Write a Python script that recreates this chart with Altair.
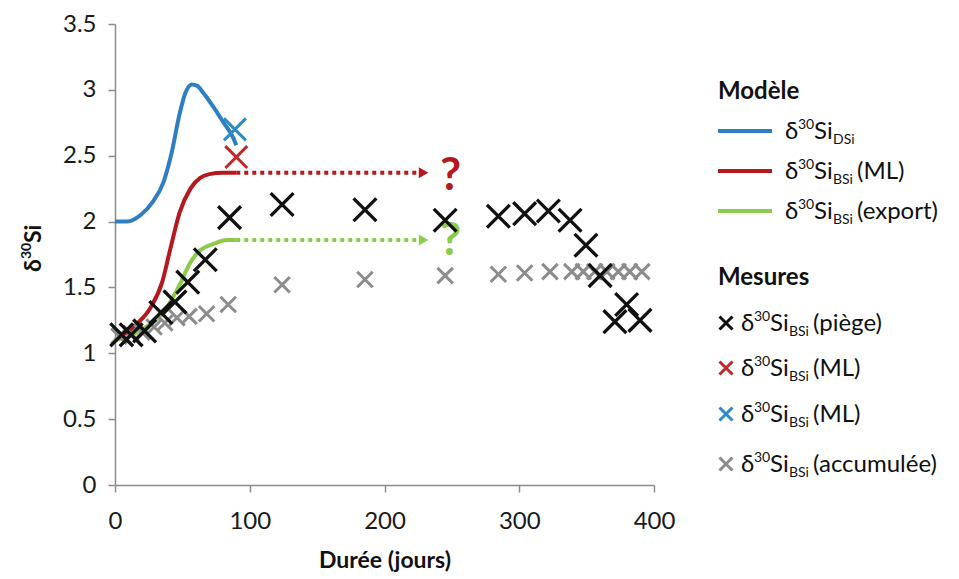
import altair as alt
import pandas as pd

FONT = "Lato"

# ---------------- data ----------------
# model curves
dsi_days = [0, 9, 19, 28, 36, 42, 48, 52, 57, 61, 66, 73, 80, 88, 90]
dsi_vals = [2.0, 2.0, 2.05, 2.15, 2.30, 2.52, 2.82, 2.97, 3.04, 3.03, 2.97, 2.87, 2.76, 2.63, 2.58]

ml_days = [0, 8, 16, 26, 35, 41, 48, 56, 63, 70, 80, 90]
ml_vals = [1.1, 1.14, 1.22, 1.34, 1.54, 1.79, 2.07, 2.25, 2.33, 2.36, 2.37, 2.37]

exp_days = [0, 10, 20, 26, 38, 48, 56, 63, 73, 83, 90]
exp_vals = [1.1, 1.13, 1.18, 1.22, 1.34, 1.52, 1.69, 1.78, 1.83, 1.86, 1.86]

# projections (dotted arrows) and question marks
arrow_start = 90
arrow_end = 226
arrow_tip = 229
ml_proj = 2.37
exp_proj = 1.86
qmark_day = 249
qmark_ml = 2.36
qmark_exp = 1.87

# measurements
piege_days = [5, 12, 22, 34, 44.5, 54, 67, 85, 124, 185.5, 245, 284.5, 304, 321.6, 337.7, 349.5, 360, 371, 379.7, 389.6]
piege_vals = [1.14, 1.14, 1.17, 1.31, 1.39, 1.54, 1.71, 2.03, 2.13, 2.09, 2.01, 2.04, 2.06, 2.08, 2.01, 1.82, 1.59, 1.24, 1.37, 1.25]

mlred_days = [90]
mlred_vals = [2.49]

mlblue_days = [89]
mlblue_vals = [2.70]

accum_days = [3, 12, 20, 29, 37, 46, 55, 68, 84, 124, 185.5, 245, 284.5, 304, 322.8, 339, 347.5, 356, 365, 373.5, 382, 391]
accum_vals = [1.13, 1.15, 1.16, 1.20, 1.23, 1.27, 1.28, 1.30, 1.37, 1.52, 1.56, 1.59, 1.60, 1.61, 1.62, 1.62, 1.62, 1.62, 1.62, 1.62, 1.62, 1.62]

x_ticks = [0, 100, 200, 300, 400]
y_ticks = [0, 0.5, 1, 1.5, 2, 2.5, 3, 3.5]

# legend entries
model_subs = ["DSi", "BSi", "BSi"]
model_rest = ["", "(ML)", "(export)"]
meas_subs = ["BSi", "BSi", "BSi", "BSi"]
meas_rest = ["(piège)", "(ML)", "(ML)", "(accumulée)"]

# ---------------- styles ----------------
series_domain = ["DSi", "ML", "export", "piege", "mlred", "mlblue", "accum"]
series_range = ["#2E7EC2", "#B5191E", "#8DCB4C", "#111111", "#C0282D", "#2E8BC9", "#8C8C8C"]
color_scale = alt.Scale(domain=series_domain, range=series_range)
XPATH = "M-1,-1L1,1M-1,1L1,-1"

xs = alt.Scale(domain=[0, 400], nice=False, zero=False)
ys = alt.Scale(domain=[0, 3.5], nice=False, zero=False)

def frame(days, vals, series):
    return pd.DataFrame({"day": days, "val": vals, "series": series})

model_df = pd.concat([
    frame(dsi_days, dsi_vals, "DSi"),
    frame(ml_days, ml_vals, "ML"),
    frame(exp_days, exp_vals, "export"),
])

x_enc = alt.X("day:Q", scale=xs, axis=alt.Axis(
    values=x_ticks, title="Durée (jours)", format="d", grid=False, labelFlush=False,
    labelPadding=17, titlePadding=16))
y_enc = alt.Y("val:Q", scale=ys, axis=alt.Axis(
    values=y_ticks, title=None, format="~g", grid=False, labelPadding=12))
c_enc = alt.Color("series:N", scale=color_scale, legend=None)

lines = alt.Chart(model_df).mark_line(strokeWidth=4, interpolate="monotone").encode(
    x=x_enc, y=y_enc, color=c_enc)

proj_df = pd.concat([
    frame([arrow_start, arrow_end], [ml_proj, ml_proj], "ML"),
    frame([arrow_start, arrow_end], [exp_proj, exp_proj], "export"),
])
proj = alt.Chart(proj_df).mark_line(strokeWidth=4, strokeDash=[4, 4]).encode(
    x="day:Q", y="val:Q", color=c_enc)

tips_df = pd.concat([
    frame([arrow_tip], [ml_proj], "ML"),
    frame([arrow_tip], [exp_proj], "export"),
])
tips = alt.Chart(tips_df).mark_point(shape="triangle-right", filled=True, size=120, opacity=1).encode(
    x="day:Q", y="val:Q", color=c_enc)

q_df = pd.concat([
    frame([qmark_day], [qmark_ml], "ML"),
    frame([qmark_day], [qmark_exp], "export"),
])
qmarks = alt.Chart(q_df).mark_text(text="?", font=FONT, fontSize=46, fontWeight="bold",
                                    baseline="middle", dy=2).encode(
    x="day:Q", y="val:Q", color=c_enc)

def marks(days, vals, series, size, sw):
    return alt.Chart(frame(days, vals, series)).mark_point(
        shape=XPATH, filled=False, size=size, strokeWidth=sw, opacity=1).encode(
        x="day:Q", y="val:Q", color=c_enc)

m_accum = marks(accum_days, accum_vals, "accum", 240, 3)
m_piege = marks(piege_days, piege_vals, "piege", 520, 3.3)
m_red = marks(mlred_days, mlred_vals, "mlred", 480, 3)
m_blue = marks(mlblue_days, mlblue_vals, "mlblue", 480, 3)

main = alt.layer(lines, proj, tips, qmarks, m_accum, m_piege, m_red, m_blue)

# ---------------- legend (manual, for sub/superscripts) ----------------
OX, OY = 115, 24  # page position of the plot origin
px = lambda v: v - OX
py = lambda v: v - OY

BIG, SMALL = 24, 14
seg_rows = []
def add_label(x0, yc, sub, rest):
    base = yc + 8
    seg_rows.append({"lx": px(x0), "ly": py(base), "t": "δ", "fs": BIG})
    seg_rows.append({"lx": px(x0 + 13), "ly": py(base - 10), "t": "30", "fs": SMALL})
    seg_rows.append({"lx": px(x0 + 29), "ly": py(base), "t": "Si", "fs": BIG})
    seg_rows.append({"lx": px(x0 + 48), "ly": py(base + 5), "t": sub, "fs": SMALL})
    if rest:
        seg_rows.append({"lx": px(x0 + 72), "ly": py(base), "t": rest, "fs": BIG})

model_y = [131, 171, 211]
for yc, s, r in zip(model_y, model_subs, model_rest):
    add_label(785, yc, s, r)
meas_y = [323, 368, 414, 464]
for yc, s, r in zip(meas_y, meas_subs, meas_rest):
    add_label(741, yc, s, r)

seg_df = pd.DataFrame(seg_rows)
lx = alt.X("lx:Q", scale=None, axis=None)
ly = alt.Y("ly:Q", scale=None, axis=None)

leg_text = alt.Chart(seg_df).mark_text(font=FONT, align="left", baseline="alphabetic",
                                       color="#111111").encode(
    x=lx, y=ly, text="t:N", size=alt.Size("fs:Q", scale=None))

head_df = pd.DataFrame({"lx": [px(718), px(718)], "ly": [py(99), py(285)],
                        "t": ["Modèle", "Mesures"]})
leg_head = alt.Chart(head_df).mark_text(font=FONT, fontSize=24, fontWeight="bold",
                                        align="left", baseline="alphabetic", color="#111111").encode(
    x=lx, y=ly, text="t:N")

sw_df = pd.DataFrame({"lx": [px(718)] * 3, "lx2": [px(772)] * 3,
                      "ly": [py(v) for v in model_y], "series": ["DSi", "ML", "export"]})
leg_lines = alt.Chart(sw_df).mark_rule(strokeWidth=4).encode(
    x=lx, x2="lx2:Q", y=ly,
    color=alt.Color("series:N", scale=alt.Scale(domain=series_domain, range=series_range), legend=None))

mk_df = pd.DataFrame({"lx": [px(726)] * 4, "ly": [py(v) for v in meas_y],
                      "series": ["piege", "mlred", "mlblue", "accum"]})
leg_marks = alt.Chart(mk_df).mark_point(shape=XPATH, filled=False, size=170, strokeWidth=3, opacity=1).encode(
    x=lx, y=ly,
    color=alt.Color("series:N", scale=alt.Scale(domain=series_domain, range=series_range), legend=None))

# y axis title  δ30Si (rotated)
yt_df = pd.DataFrame({"lx": [px(41), px(31), px(41)], "ly": [py(272), py(259), py(243)],
                      "t": ["δ", "30", "Si"], "fs": [23, 14, 23]})
ytitle = alt.Chart(yt_df).mark_text(font=FONT, fontWeight="bold", angle=270, align="left",
                                    baseline="alphabetic", color="#111111").encode(
    x=lx, y=ly, text="t:N", size=alt.Size("fs:Q", scale=None))

legend = alt.layer(leg_lines, leg_marks, leg_text, leg_head, ytitle)

chart = alt.layer(main, legend).resolve_scale(x="independent", y="independent", color="independent").properties(
    width=539, height=461,
    padding={"left": 107, "top": 16, "right": 297, "bottom": 90},
    autosize=alt.AutoSizeParams(type="none"),
    background="white",
).configure_view(stroke=None).configure_axis(
    domainColor="#8C8C8C", domainWidth=1.5, tickColor="#8C8C8C", tickWidth=1.5, tickSize=7,
    labelFont=FONT, labelFontSize=24, labelColor="#1a1a1a",
    titleFont=FONT, titleFontSize=23, titleFontWeight="bold", titleColor="#111111",
)

chart.save("out.html", embed_options={"renderer": "svg", "actions": False})
